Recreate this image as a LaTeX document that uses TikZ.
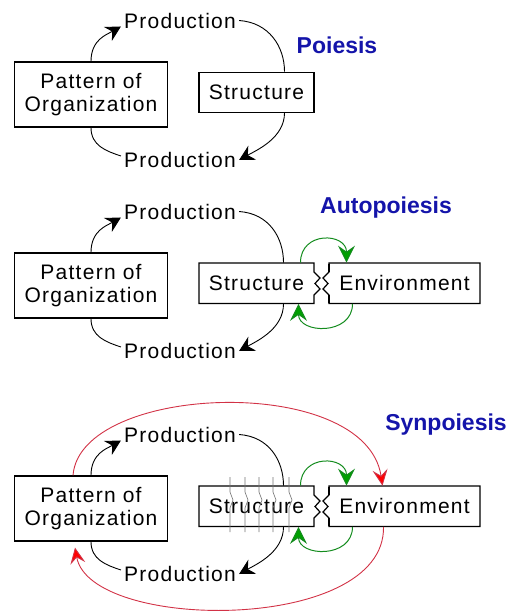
\documentclass[tikz,border=0pt]{standalone}
\usepackage{fontspec}
\setmainfont{Liberation Sans}
\newfontfamily\labelfont[LetterSpace=6]{Liberation Sans}
\usetikzlibrary{arrows.meta}

\definecolor{titleblue}{RGB}{20,20,170}
\definecolor{loopgreen}{RGB}{20,140,30}
\definecolor{tipgreen}{RGB}{0,160,0}
\definecolor{loopred}{RGB}{210,50,70}

\tikzset{
style1/.style= {draw,rectangle,line width=1.2pt,align=center,font=\labelfont\fontsize{21}{23}\selectfont},
style2/.style= {inner sep=3pt,font=\labelfont\fontsize{21}{23}\selectfont},
style3/.style= {inner sep=0pt,text=titleblue,font=\bfseries\fontsize{23}{25}\selectfont},
style4/.style= {line width=0.9pt,-{Stealth[length=15pt,width=16pt,inset=5pt]}},
style5/.style= {line width=1pt,draw=loopgreen,-{Stealth[length=17pt,width=17pt,inset=6pt,fill=tipgreen]}},
style6/.style= {line width=0.9pt,draw=loopred,-{Stealth[length=16pt,width=15pt,inset=6pt,fill=red]}},
style7/.style= {line width=1.2pt}
}

\begin{document}
\begin{tikzpicture}[x=1pt,y=-1pt]
\useasboundingbox (0,0) rectangle (512,612);

% Poiesis
\node[style1,minimum width=153pt,minimum height=65pt] (pat1) at (91,94.5) {Pattern of\\Organization};
\node[style1,minimum width=115pt,minimum height=40pt] (str1) at (256.5,92.25) {Structure};
\node[style2] (prod1t) at (180,20.5) {Production};
\node[style2] (prod1b) at (180,160) {Production};
\node[style3] (tit1) at (337,45) {Poiesis};

\draw[style4] (pat1.north) .. controls +(0,-22) and +(-14,8) .. ([yshift=-6pt]prod1t.west);
\draw[line width=0.9pt] (prod1t.east) .. controls +(30,2) and +(0,-25) .. ([xshift=28pt]str1.north);
\draw[style4] ([xshift=28pt]str1.south) .. controls +(0,25) and +(18,-10) .. (prod1b.east);
\draw[line width=0.9pt] (pat1.south) .. controls +(0,18) and +(-15,-5) .. ([yshift=4pt]prod1b.west);

% Autopoiesis and Synpoiesis
\foreach \n/\dy in {2/191,3/414}{
\begin{scope}[shift={(0,\dy)}]
\node[style1,minimum width=153pt,minimum height=65pt] (pat\n) at (91,94.5) {Pattern of\\Organization};
\node[style1,draw=none,minimum width=115pt,minimum height=40pt] (str\n) at (256.5,92.25) {Structure};
\node[style1,draw=none,minimum width=151pt,minimum height=40pt] (env\n) at (404.5,92.25) {Environment};
\node[style2] (prod\n t) at (180,20.5) {Production};
\node[style2] (prod\n b) at (180,160) {Production};

% the two boxes with the jagged edges
\draw[style7] (314,81) -- (314,72) -- (199,72) -- (199,112.5) -- (314,112.5) -- (314,104)
  -- (320,98) -- (315,92.5) -- (320,87) -- cycle;
\draw[style7] (329,81) -- (329,72) -- (480,72) -- (480,112.5) -- (329,112.5) -- (329,104)
  -- (323,98) -- (328,92.5) -- (323,87) -- cycle;
\draw[line width=2.6pt] (329,73) -- (329,81) (329,104) -- (329,111.5);

\draw[style4] (pat\n.north) .. controls +(0,-22) and +(-14,8) .. ([yshift=-6pt]prod\n t.west);
\draw[line width=0.9pt] (prod\n t.east) .. controls +(30,2) and +(0,-25) .. ([xshift=27pt]str\n.north);
\draw[style4] ([xshift=27pt]str\n.south) .. controls +(0,25) and +(18,-10) .. (prod\n b.east);
\draw[line width=0.9pt] (pat\n.south) .. controls +(0,18) and +(-15,-5) .. ([yshift=4pt]prod\n b.west);

% loops between structure and environment
\draw[style5] ([xshift=44pt]str\n.north) .. controls +(0,-32) and +(0,-30) .. ([xshift=-58pt]env\n.north);
\draw[style5] ([xshift=-52pt]env\n.south) .. controls +(0,32) and +(0,30) .. ([xshift=42pt]str\n.south);
\end{scope}
}

\node[style3] (tit2) at (386,208) {Autopoiesis};
\node[style3] (tit3) at (446,425) {Synpoiesis};

% ribs across the structure
\foreach \x in {230,245,259,273,289}
  \draw[black!55,line width=0.6pt] (\x,477) -- (\x,492) -- (\x+3,500) -- (\x,508) -- (\x,532);

% the outer loop
\draw[style6] ([xshift=-18pt]pat3.north) .. controls +(7,-92) and +(-17,-113) .. ([xshift=-22pt]env3.north);
\draw[style6] ([xshift=-21pt]env3.south) .. controls +(2,107) and +(15,84) .. ([xshift=-16pt,yshift=-6pt]pat3.south);
\end{tikzpicture}
\end{document}
